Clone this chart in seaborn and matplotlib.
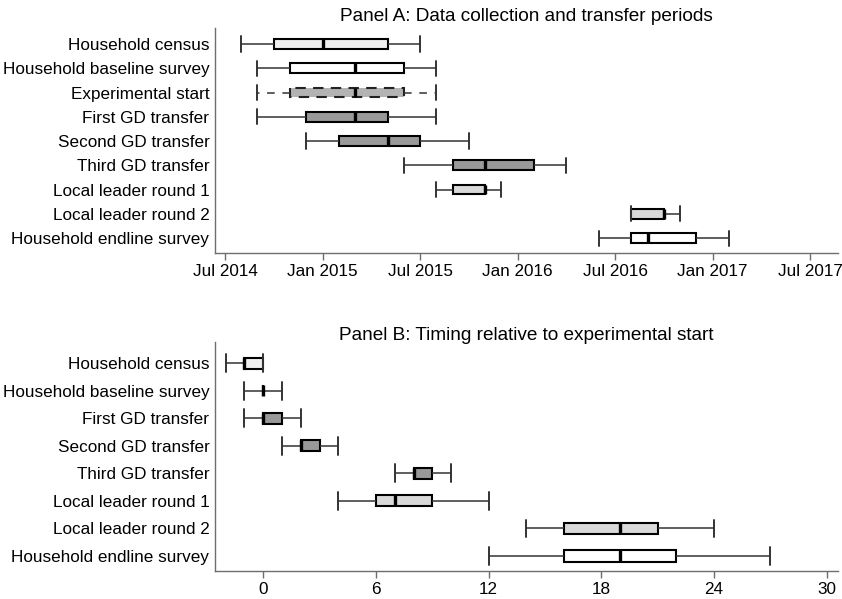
import numpy as np
import pandas as pd
import matplotlib
matplotlib.use("Agg")
import matplotlib.pyplot as plt
import seaborn as sns

# ---- Panel A: calendar months of each activity (min, q1, median, q3, max)
labels_a = ["Household census", "Household baseline survey", "Experimental start",
            "First GD transfer", "Second GD transfer", "Third GD transfer",
            "Local leader round 1", "Local leader round 2", "Household endline survey"]
a_low = ["2014-08", "2014-09", "2014-09", "2014-09", "2014-12", "2015-06", "2015-08", "2016-08", "2016-06"]
a_q1 = ["2014-10", "2014-11", "2014-11", "2014-12", "2015-02", "2015-09", "2015-09", "2016-08", "2016-08"]
a_med = ["2015-01", "2015-03", "2015-03", "2015-03", "2015-05", "2015-11", "2015-11", "2016-10", "2016-09"]
a_q3 = ["2015-05", "2015-06", "2015-06", "2015-05", "2015-07", "2016-02", "2015-11", "2016-10", "2016-12"]
a_high = ["2015-07", "2015-08", "2015-08", "2015-08", "2015-10", "2016-04", "2015-12", "2016-11", "2017-02"]
a_tick_months = ["2014-07", "2015-01", "2015-07", "2016-01", "2016-07", "2017-01", "2017-07"]

# ---- Panel B: months relative to experimental start
labels_b = ["Household census", "Household baseline survey", "First GD transfer",
            "Second GD transfer", "Third GD transfer", "Local leader round 1",
            "Local leader round 2", "Household endline survey"]
b_low = [-2, -1, -1, 1, 7, 4, 14, 12]
b_q1 = [-1, 0, 0, 2, 8, 6, 16, 16]
b_med = [-1, 0, 0, 2, 8, 7, 19, 19]
b_q3 = [0, 0, 1, 3, 9, 9, 21, 22]
b_high = [0, 1, 2, 4, 10, 12, 24, 27]
b_ticks = [0, 6, 12, 18, 24, 30]

fills = {
    "Household census": "#efefef",
    "Household baseline survey": "#ffffff",
    "Experimental start": "#b3b3b3",
    "First GD transfer": "#999999",
    "Second GD transfer": "#999999",
    "Third GD transfer": "#999999",
    "Local leader round 1": "#d9d9d9",
    "Local leader round 2": "#d9d9d9",
    "Household endline survey": "#ffffff",
}

BASE = pd.Period("2014-07", freq="M")


def month_index(values):
    idx = pd.PeriodIndex(values, freq="M")
    return (idx.year - BASE.year) * 12 + (idx.month - BASE.month)


def long_form(labels, *cols):
    rows = []
    for i, lab in enumerate(labels):
        for col in cols:
            rows.append((lab, col[i]))
    return pd.DataFrame(rows, columns=["activity", "value"])


sns.set_theme(style="white")
plt.rcParams["font.family"] = ["Liberation Sans", "DejaVu Sans"]
plt.rcParams["text.color"] = "black"
plt.rcParams["axes.labelcolor"] = "black"
FS = 12.3
TITLE_FS = 13.7

fig = plt.figure(figsize=(8.42, 5.99), dpi=100)
ax_a = fig.add_axes([215 / 842, 1 - 253.3 / 599, (838 - 215) / 842, (253.3 - 28) / 599])
ax_b = fig.add_axes([215 / 842, 1 - 571 / 599, (838 - 215) / 842, (571 - 341.7) / 599])

box_kw = dict(whis=(0, 100), saturation=1, linecolor="black", legend=False,
              boxprops=dict(linewidth=1.5, edgecolor="black"),
              whiskerprops=dict(linewidth=1.1, color="#333333"),
              capprops=dict(linewidth=1.4, color="#333333"),
              medianprops=dict(linewidth=2.4, color="black"))

# Panel A
cols_a = [month_index(c) for c in (a_low, a_q1, a_med, a_q3, a_high)]
df_a = long_form(labels_a, *cols_a)
solid = df_a[df_a["activity"] != "Experimental start"]
dashed = df_a[df_a["activity"] == "Experimental start"]
sns.boxplot(data=solid, x="value", y="activity", hue="activity", order=labels_a,
            palette=fills, width=0.41, capwidths=0.62, ax=ax_a, **box_kw)
dash_kw = dict(box_kw)
dash_kw["boxprops"] = dict(linewidth=1.5, edgecolor="#222222", linestyle=(0, (5, 3.5)))
dash_kw["whiskerprops"] = dict(linewidth=1.1, color="#333333", linestyle=(0, (5, 5)))
sns.boxplot(data=dashed, x="value", y="activity", hue="activity", order=labels_a,
            palette=fills, width=0.41, capwidths=0.62, ax=ax_a, **dash_kw)

tick_pos_a = month_index(a_tick_months)
ax_a.set_xticks(tick_pos_a)
ax_a.set_xticklabels([pd.Period(m, freq="M").strftime("%b %Y") for m in a_tick_months])
ax_a.set_xlim(-0.615, 37.72)
ax_a.set_ylim(8.63, -0.66)
ax_a.set_title("Panel A: Data collection and transfer periods", fontsize=TITLE_FS,
               pad=5.2, color="black")

# Panel B
df_b = long_form(labels_b, b_low, b_q1, b_med, b_q3, b_high)
sns.boxplot(data=df_b, x="value", y="activity", hue="activity", order=labels_b,
            palette=fills, width=0.4, capwidths=0.65, ax=ax_b, **box_kw)
ax_b.set_xticks(b_ticks)
ax_b.set_xlim(-2.57, 30.6)
ax_b.set_ylim(7.545, -0.785)
ax_b.set_title("Panel B: Timing relative to experimental start", fontsize=TITLE_FS,
               pad=1.2, color="black")

for ax in (ax_a, ax_b):
    ax.set_xlabel("")
    ax.set_ylabel("")
    for side in ("top", "right"):
        ax.spines[side].set_visible(False)
    for side in ("left", "bottom"):
        ax.spines[side].set_color("#6e6e6e")
        ax.spines[side].set_linewidth(1.0)
    ax.tick_params(axis="x", length=5, width=1, color="#6e6e6e", labelsize=FS,
                   labelcolor="black", pad=3, bottom=True)
    ax.tick_params(axis="y", length=0, labelsize=FS, labelcolor="black", pad=4)
    ax.grid(False)

fig.savefig("out.png", dpi=100, facecolor="white")
